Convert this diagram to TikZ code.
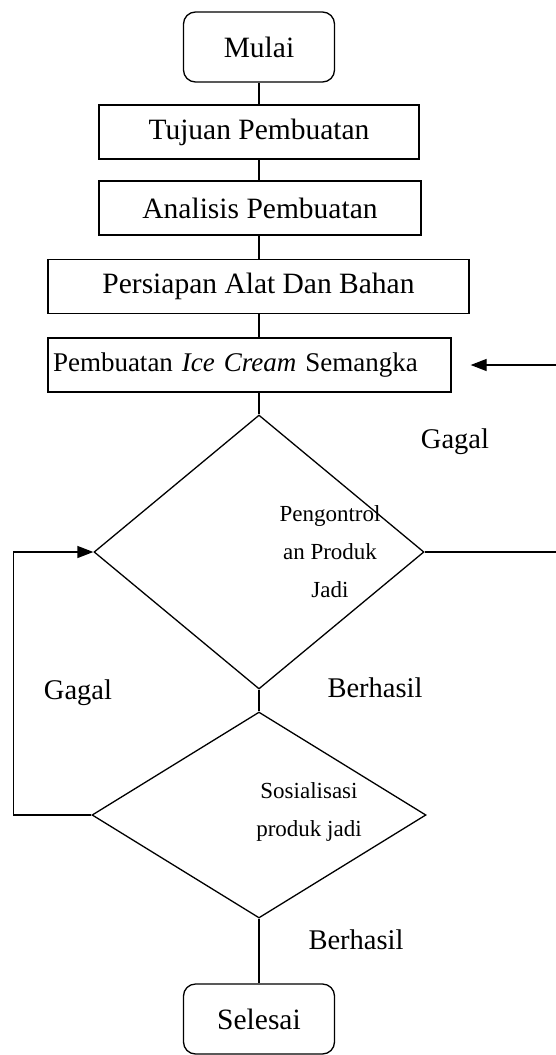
\documentclass[tikz,border=0pt]{standalone}
\usepackage{fontspec}
\setmainfont{Liberation Serif}
\usetikzlibrary{shapes.geometric,arrows.meta}

\begin{document}
\begin{tikzpicture}[x=1pt, y=-1pt, line width=1.3pt,
    ujung/.style={draw, rectangle, rounded corners=12pt, minimum width=151pt, minimum height=70pt, font=\fontsize{29.5}{35}\selectfont},
    proses/.style={draw, rectangle, minimum height=54pt, inner sep=0pt, font=\fontsize{29.5}{35}\selectfont},
    keputusan/.style={draw, diamond, inner sep=0pt},
    isi/.style={align=center, font=\fontsize{23}{38}\selectfont},
    ket/.style={font=\fontsize{28.5}{34}\selectfont},
    panah/.style={-{Triangle[length=16pt,width=12pt]}}]

    \useasboundingbox (0,0) rectangle (555,1055);

    % Start and end
    \node[ujung] (mulai) at (259,47) {Mulai};
    \node[ujung] (selesai) at (259,1019) {Selesai};

    % Process boxes
    \node[proses, minimum width=320pt] (tujuan) at (259,132) {Tujuan Pembuatan};
    \node[proses, minimum width=322pt] (analisis) at (260,208) {Analisis Pembuatan};
    \node[proses, minimum width=421pt] (persiapan) at (258.5,286.5) {Persiapan Alat Dan Bahan};
    \node[proses, minimum width=403pt, text width=393pt, align=left, font=\fontsize{27}{32}\selectfont]
        (buat) at (249.5,365) {Pembuatan \textit{Ice Cream} Semangka};

    % Decisions
    \node[keputusan, minimum width=330pt, minimum height=274pt] (kontrol) at (259,552) {};
    \node[keputusan, minimum width=334pt, minimum height=206pt] (sosial) at (259,815) {};
    \node[isi] (tkontrol) at (330,552) {Pengontrol\\an Produk\\Jadi};
    \node[isi] (tsosial) at (309,812) {Sosialisasi\\produk jadi};

    % Labels
    \node[ket] (gagal1) at (455,442) {Gagal};
    \node[ket] (berhasil1) at (375,688) {Berhasil};
    \node[ket] (gagal2) at (78,693) {Gagal};
    \node[ket] (berhasil2) at (356,940) {Berhasil};

    % Main flow
    \foreach \a/\b in {mulai/tujuan, tujuan/analisis, analisis/persiapan, persiapan/buat, buat/kontrol}
        \draw (\a.south -| mulai) -- (\b.north -| mulai);
    \draw (kontrol.south) -- (sosial.north);
    \draw (sosial.south) -- (selesai.north);

    % Gagal loops
    \draw[panah] (sosial.west) -- ++(-78,0) coordinate (kiri) |- (kontrol.west);
    \draw[panah] (kontrol.east) -- ++(136,0) coordinate (kanan) |- ([xshift=19pt]buat.east);

\end{tikzpicture}
\end{document}
